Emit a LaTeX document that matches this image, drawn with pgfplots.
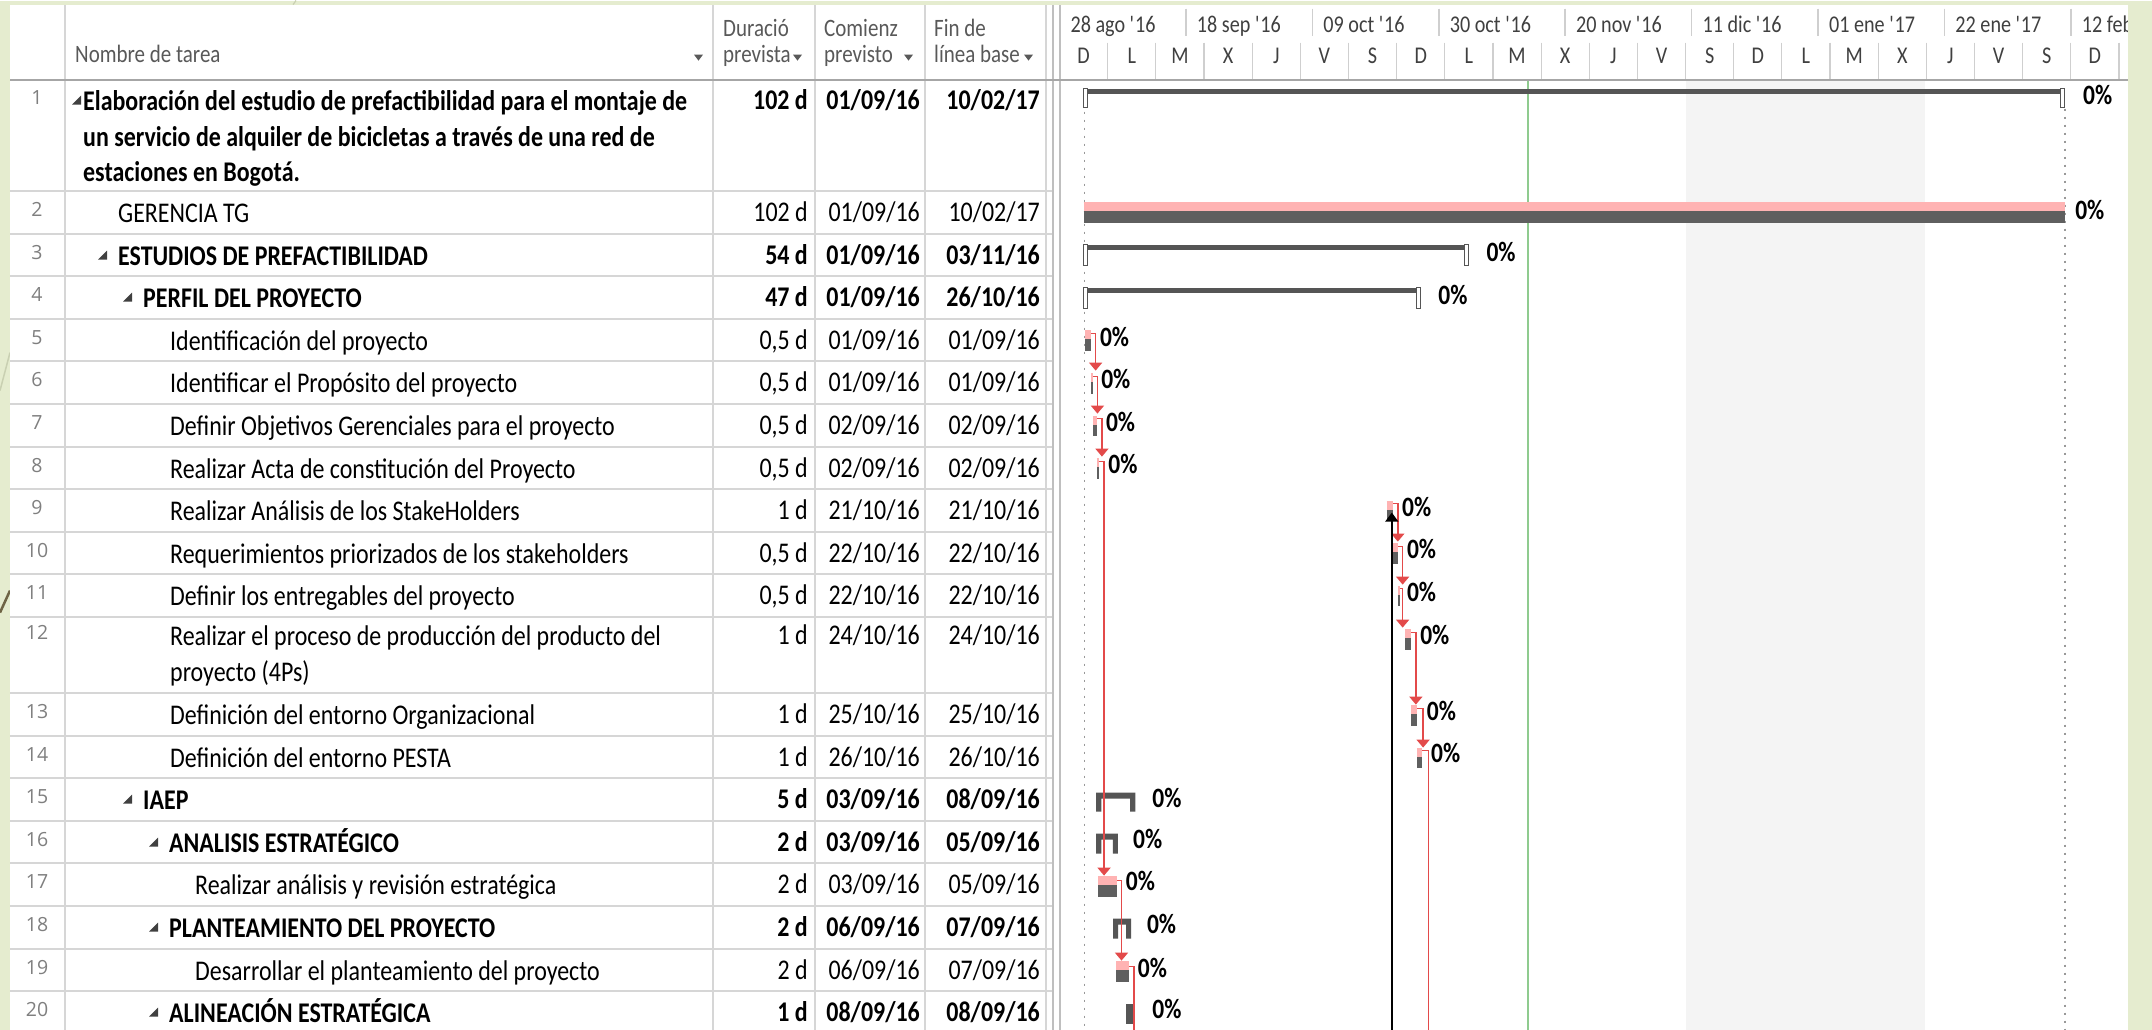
\documentclass[border=0pt]{standalone}
\usepackage{fontspec}
\setmainfont{Carlito}[FakeStretch=0.84]
\newfontfamily\numfam{Open Sans}
\usepackage{pgfplots}
\pgfplotsset{compat=1.18}
\usetikzlibrary{arrows.meta}

\definecolor{bgg}{HTML}{E5ECCF}
\definecolor{pinkbar}{HTML}{FFB3B3}
\definecolor{basebar}{HTML}{5F5F5F}
\definecolor{sumbar}{HTML}{555555}
\definecolor{linkred}{HTML}{E34A4A}
\definecolor{gridg}{HTML}{D6D6D6}
\definecolor{hdrtxt}{HTML}{595959}
\definecolor{numtxt}{HTML}{7F7F7F}
\definecolor{todayg}{HTML}{8FCB8F}
\definecolor{shade}{HTML}{F4F4F4}
\definecolor{splitc}{HTML}{BFBFBF}
\definecolor{hdrline}{HTML}{A6A6A6}
\definecolor{tsline}{HTML}{CFCFCF}
\definecolor{tstxt}{HTML}{404040}
\definecolor{decolight}{HTML}{C9D0B2}
\definecolor{decodark}{HTML}{6E6445}

\newcommand\bodyf{\fontsize{28.5}{35}\selectfont}
\newcommand\numf{\numfam\fontsize{19.5}{24}\selectfont}
\newcommand\hdrf{\fontsize{25}{29}\selectfont}
\newcommand\tsf{\fontsize{24}{28}\selectfont}
\newcommand\pctf{\fontsize{28}{30}\selectfont\bfseries}

% #1 baseline, #2 number, #3 x, #4 name, #5 dur, #6 start, #7 end, #8 font extra
\newcommand\Rw[8]{%
  \node[anchor=base, inner sep=0, text=numtxt, font=\numf] at (37,#1-6) {#2};
  \node[anchor=base west, inner sep=0, font=\bodyf#8] at (#3,#1) {#4};
  \node[anchor=base east, inner sep=0, font=\bodyf#8] at (808,#1-1) {#5};
  \node[anchor=base east, inner sep=0, font=\bodyf#8] at (920,#1-1) {#6};
  \node[anchor=base east, inner sep=0, font=\bodyf#8] at (1040,#1-1) {#7};}
\newcommand\Tri[2]{\fill[black!75] (#1+9,#2-15) -- (#1+9,#2-6) -- (#1,#2-6) -- cycle;}
\newcommand\Pct[2]{\node[anchor=west, inner sep=0, font=\pctf] at (axis cs:#1,#2) {0\%};}

\begin{document}
\begin{tikzpicture}
\begin{scope}[x=1pt,y=-1pt]
\useasboundingbox (0,0) rectangle (2152,1029);
\fill[bgg] (0,0) rectangle (2152,1029);
\draw[decolight, line width=1.5pt] (0,390) -- (10,352);
\draw[decodark, line width=2.5pt] (0,612) -- (10,590);
\draw[decolight, line width=1.2pt] (296,0) -- (293,4);
\fill[white] (10,4) rectangle (2128,1029);
\foreach \yy in {190,233,275,318,360,403,446,488,531,573,616,692,735,777,820,862,905,948,990}
  \draw[gridg,line width=2pt] (10,\yy) -- (1053,\yy);
\foreach \xx in {65,713,815,925,1046}
  \draw[gridg,line width=1.5pt] (\xx,4) -- (\xx,1029);
\draw[splitc,line width=2.5pt] (1053,4) -- (1053,1029);
\draw[splitc,line width=1.5pt] (1060,4) -- (1060,1029);
\draw[hdrline,line width=2pt] (10,79) -- (2128,79);
% header
\begin{scope}[every node/.style={anchor=base west,inner sep=0,font=\hdrf,text=hdrtxt}]
\node at (75,62) {Nombre de tarea};
\node at (723,36) {Duració};
\node at (723,62) {prevista};
\node at (824,36) {Comienz};
\node at (824,62) {previsto};
\node at (934,36) {Fin de};
\node at (934,62) {línea base};
\end{scope}
\fill[hdrtxt] (694,54) -- (703,54) -- (698.5,60) -- cycle;
\fill[hdrtxt] (793,54) -- (802,54) -- (797.5,60) -- cycle;
\fill[hdrtxt] (904,54) -- (913,54) -- (908.5,60) -- cycle;
\fill[hdrtxt] (1024,54) -- (1033,54) -- (1028.5,60) -- cycle;
% rows
\Rw{110}{1}{83}{Elaboración del estudio de prefactibilidad para el montaje de}{102 d}{01/09/16}{10/02/17}{\bfseries}
\node[anchor=base west,inner sep=0,font=\bodyf\bfseries] at (83,146) {un servicio de alquiler de bicicletas a través de una red de};
\node[anchor=base west,inner sep=0,font=\bodyf\bfseries] at (83,181) {estaciones en Bogotá.};
\Tri{72}{110}
\Rw{222}{2}{118}{GERENCIA TG}{102 d}{01/09/16}{10/02/17}{}
\Rw{265}{3}{118}{ESTUDIOS DE PREFACTIBILIDAD}{54 d}{01/09/16}{03/11/16}{\bfseries}
\Tri{98}{265}
\Rw{307}{4}{143}{PERFIL DEL PROYECTO}{47 d}{01/09/16}{26/10/16}{\bfseries}
\Tri{123}{307}
\Rw{350}{5}{170}{Identificación del proyecto}{0,5 d}{01/09/16}{01/09/16}{}
\Rw{392}{6}{170}{Identificar el Propósito del proyecto}{0,5 d}{01/09/16}{01/09/16}{}
\Rw{435}{7}{170}{Definir Objetivos Gerenciales para el proyecto}{0,5 d}{02/09/16}{02/09/16}{}
\Rw{478}{8}{170}{Realizar Acta de constitución del Proyecto}{0,5 d}{02/09/16}{02/09/16}{}
\Rw{520}{9}{170}{Realizar Análisis de los StakeHolders}{1 d}{21/10/16}{21/10/16}{}
\Rw{563}{10}{170}{Requerimientos priorizados de los stakeholders}{0,5 d}{22/10/16}{22/10/16}{}
\Rw{605}{11}{170}{Definir los entregables del proyecto}{0,5 d}{22/10/16}{22/10/16}{}
\Rw{645}{12}{170}{Realizar el proceso de producción del producto del}{1 d}{24/10/16}{24/10/16}{}
\node[anchor=base west,inner sep=0,font=\bodyf] at (170,681) {proyecto (4Ps)};
\Rw{724}{13}{170}{Definición del entorno Organizacional}{1 d}{25/10/16}{25/10/16}{}
\Rw{767}{14}{170}{Definición del entorno PESTA}{1 d}{26/10/16}{26/10/16}{}
\Rw{809}{15}{143}{IAEP}{5 d}{03/09/16}{08/09/16}{\bfseries}
\Tri{123}{809}
\Rw{852}{16}{169}{ANALISIS ESTRATÉGICO}{2 d}{03/09/16}{05/09/16}{\bfseries}
\Tri{149}{852}
\Rw{894}{17}{195}{Realizar análisis y revisión estratégica}{2 d}{03/09/16}{05/09/16}{}
\Rw{937}{18}{169}{PLANTEAMIENTO DEL PROYECTO}{2 d}{06/09/16}{07/09/16}{\bfseries}
\Tri{149}{937}
\Rw{980}{19}{195}{Desarrollar el planteamiento del proyecto}{2 d}{06/09/16}{07/09/16}{}
\Rw{1022}{20}{169}{ALINEACIÓN ESTRATÉGICA}{1 d}{08/09/16}{08/09/16}{\bfseries}
\Tri{149}{1022}
\end{scope}

\begin{axis}[at={(1059.5pt,-1029pt)}, anchor=south west,
  width=1068.5pt, height=1025pt, scale only axis,
  xmin=0, xmax=177.5, ymin=4, ymax=1029, y dir=reverse,
  hide axis, clip=true]
% non-working period shading
\addplot[fill=shade, draw=none] coordinates {(104,80) (143.8,80) (143.8,1029) (104,1029)} --cycle;
% timescale separators
\pgfplotsinvokeforeach{21,42,63,84,105,126,147,168}{\draw[tsline,line width=1.5pt] (axis cs:#1,8) -- (axis cs:#1,35);}
\pgfplotsinvokeforeach{8,16,24,32,40,48,56,64,72,80,88,96,104,112,120,128,136,144,152,160,168,176}{\draw[tsline,line width=1.2pt] (axis cs:#1,42) -- (axis cs:#1,78);}
% timescale labels
\begin{scope}[every node/.style={anchor=base west,inner sep=0,font=\tsf,text=tstxt}]
\node at (axis cs:1.8,32) {28 ago \textquotesingle16};
\node at (axis cs:22.8,32) {18 sep \textquotesingle16};
\node at (axis cs:43.8,32) {09 oct \textquotesingle16};
\node at (axis cs:64.8,32) {30 oct \textquotesingle16};
\node at (axis cs:85.8,32) {20 nov \textquotesingle16};
\node at (axis cs:106.8,32) {11 dic \textquotesingle16};
\node at (axis cs:127.8,32) {01 ene \textquotesingle17};
\node at (axis cs:148.8,32) {22 ene \textquotesingle17};
\node at (axis cs:169.8,32) {12 feb \textquotesingle17};
\end{scope}
\begin{scope}[every node/.style={anchor=base,inner sep=0,font=\tsf,text=tstxt}]
\node at (axis cs:4,63) {D};   \node at (axis cs:12,63) {L};  \node at (axis cs:20,63) {M};
\node at (axis cs:28,63) {X};  \node at (axis cs:36,63) {J};  \node at (axis cs:44,63) {V};
\node at (axis cs:52,63) {S};  \node at (axis cs:60,63) {D};  \node at (axis cs:68,63) {L};
\node at (axis cs:76,63) {M};  \node at (axis cs:84,63) {X};  \node at (axis cs:92,63) {J};
\node at (axis cs:100,63) {V}; \node at (axis cs:108,63) {S}; \node at (axis cs:116,63) {D};
\node at (axis cs:124,63) {L}; \node at (axis cs:132,63) {M}; \node at (axis cs:140,63) {X};
\node at (axis cs:148,63) {J}; \node at (axis cs:156,63) {V}; \node at (axis cs:164,63) {S};
\node at (axis cs:172,63) {D};
\end{scope}
% status date, project start/finish
\addplot[todayg, line width=1.5pt] coordinates {(77.8,80) (77.8,1029)};
\addplot[gray!80, line width=1.5pt, dash pattern=on 2pt off 6pt] coordinates {(4.15,95) (4.15,1029)};
\addplot[gray!80, line width=1.5pt, dash pattern=on 2pt off 6pt] coordinates {(167,108) (167,1029)};
% summary bars (project / level 1-2)
\addplot[sumbar, line width=5pt, unbounded coords=jump] coordinates {(4,90.5) (167,90.5) (nan,nan) (4,246.5) (68,246.5) (nan,nan) (4,289.5) (60,289.5)};
\addplot[draw=sumbar, fill=white, line width=1pt] coordinates {(4,88) (4.7,88) (4.7,107) (4,107)} --cycle;
\addplot[draw=sumbar, fill=white, line width=1pt] coordinates {(166.3,88) (167,88) (167,107) (166.3,107)} --cycle;
\addplot[draw=sumbar, fill=white, line width=1pt] coordinates {(4,244) (4.7,244) (4.7,265) (4,265)} --cycle;
\addplot[draw=sumbar, fill=white, line width=1pt] coordinates {(67.3,244) (68,244) (68,265) (67.3,265)} --cycle;
\addplot[draw=sumbar, fill=white, line width=1pt] coordinates {(4,287) (4.7,287) (4.7,308) (4,308)} --cycle;
\addplot[draw=sumbar, fill=white, line width=1pt] coordinates {(59.3,287) (60,287) (60,308) (59.3,308)} --cycle;
% summary bars (IAEP group)
\addplot[fill=sumbar, draw=none] coordinates {(6.1,792) (12.6,792) (12.6,811) (11.75,811) (11.75,798) (6.95,798) (6.95,811) (6.1,811)} --cycle;
\addplot[fill=sumbar, draw=none] coordinates {(6.1,833) (9.7,833) (9.7,853) (8.85,853) (8.85,839) (6.95,839) (6.95,853) (6.1,853)} --cycle;
\addplot[fill=sumbar, draw=none] coordinates {(8.9,918) (11.9,918) (11.9,938) (11.05,938) (11.05,924) (9.75,924) (9.75,938) (8.9,938)} --cycle;
\addplot[fill=sumbar, draw=none] coordinates {(11.0,1003) (12.4,1003) (12.4,1023) (11.0,1023)} --cycle;
% task bars: planned (pink) and baseline (grey)
\addplot[pinkbar, line width=9pt, yshift=5pt, unbounded coords=jump] coordinates {
 (4,211) (167,211) (nan,nan) (4.2,339) (5.2,339) (nan,nan) (5.2,382) (5.55,382) (nan,nan)
 (5.6,424.5) (6.2,424.5) (nan,nan) (6.2,467) (6.5,467) (nan,nan) (54.4,509.5) (55.4,509.5) (nan,nan)
 (55.4,552) (56.2,552) (nan,nan) (56.2,594.5) (56.5,594.5) (nan,nan) (57.4,638) (58.4,638) (nan,nan)
 (58.4,714) (59.4,714) (nan,nan) (59.4,756.5) (60.2,756.5) (nan,nan) (6.4,885) (9.6,885) (nan,nan)
 (9.4,970) (11.5,970)};
\addplot[basebar, line width=11.5pt, yshift=-5.25pt, unbounded coords=jump] coordinates {
 (4,211) (167,211) (nan,nan) (4.2,339) (5.2,339) (nan,nan) (5.2,382) (5.55,382) (nan,nan)
 (5.6,424.5) (6.2,424.5) (nan,nan) (6.2,467) (6.5,467) (nan,nan) (54.4,509.5) (55.4,509.5) (nan,nan)
 (55.4,552) (56.2,552) (nan,nan) (56.2,594.5) (56.5,594.5) (nan,nan) (57.4,638) (58.4,638) (nan,nan)
 (58.4,714) (59.4,714) (nan,nan) (59.4,756.5) (60.2,756.5) (nan,nan) (6.4,885) (9.6,885) (nan,nan)
 (9.4,970) (11.5,970)};
% dependency links
\pgfplotsset{lnk/.style={linkred, line width=1.6pt, -{Triangle[width=13pt,length=8pt]}}}
\addplot[lnk] coordinates {(5.2,333) (6.0,333) (6.0,370)};
\addplot[lnk] coordinates {(5.55,376) (6.3,376) (6.3,413)};
\addplot[lnk] coordinates {(6.2,418) (7.05,418) (7.05,456)};
\addplot[lnk] coordinates {(6.5,461) (7.4,461) (7.4,875)};
\addplot[lnk] coordinates {(9.6,880) (10.3,880) (10.3,960)};
\addplot[linkred, line width=1.6pt] coordinates {(11.5,966) (12.35,966) (12.35,1029)};
\addplot[lnk] coordinates {(55.4,503) (56.2,503) (56.2,541)};
\addplot[lnk] coordinates {(56.2,546) (57.0,546) (57.0,584)};
\addplot[lnk] coordinates {(56.5,588) (57.0,588) (57.0,627)};
\addplot[lnk] coordinates {(58.4,632) (59.2,632) (59.2,704)};
\addplot[lnk] coordinates {(59.4,708) (60.4,708) (60.4,747)};
\addplot[linkred, line width=1.6pt] coordinates {(60.2,750) (61.3,750) (61.3,1029)};
\addplot[black, line width=1.6pt, -{Triangle[width=13pt,length=9pt]}] coordinates {(55.2,1029) (55.2,512)};
% percent complete labels
\Pct{170.0}{94}
\Pct{168.7}{209}
\Pct{70.9}{251}
\Pct{62.9}{294}
\Pct{6.7}{336}
\Pct{6.9}{378}
\Pct{7.7}{421}
\Pct{8.1}{463}
\Pct{56.9}{506}
\Pct{57.7}{548}
\Pct{57.7}{591}
\Pct{59.9}{634}
\Pct{61.0}{710}
\Pct{61.7}{752}
\Pct{15.4}{797}
\Pct{12.2}{838}
\Pct{11.0}{880}
\Pct{14.5}{923}
\Pct{13.0}{967}
\Pct{15.4}{1008}
\end{axis}

\begin{scope}[x=1pt,y=-1pt]
\fill[bgg] (2128,0) rectangle (2152,1029);
\fill[bgg] (0,0) rectangle (2152,4);
\draw[decolight, line width=1.2pt] (296,0) -- (293,4);
\end{scope}
\end{tikzpicture}
\end{document}
